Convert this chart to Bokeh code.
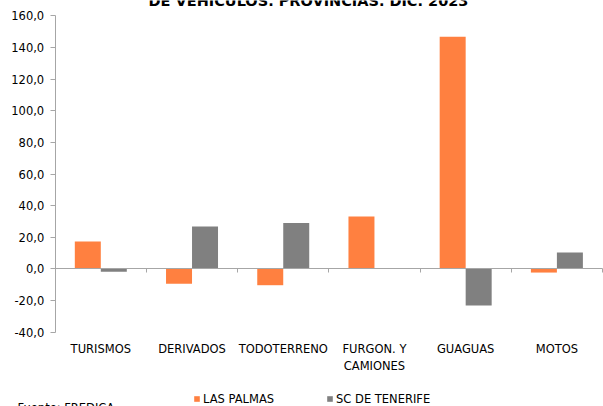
from bokeh.plotting import figure
from bokeh.models import (ColumnDataSource, FixedTicker, LinearAxis, Range1d,
                          Legend, LegendItem, Label)
from bokeh.transform import dodge
from bokeh.embed import file_html
from bokeh.resources import INLINE

# ---- data ----
categories = ["TURISMOS", "DERIVADOS", "TODOTERRENO", "FURGON. Y\nCAMIONES", "GUAGUAS", "MOTOS"]
las_palmas = [17.3, -9.4, -10.3, 33.1, 146.8, -2.3]
sc_tenerife = [-1.8, 26.8, 29.1, 0.0, -23.1, 10.4]
y_ticks = [-40, -20, 0, 20, 40, 60, 80, 100, 120, 140, 160]
series_names = ["LAS PALMAS", "SC DE TENERIFE"]
title_text = "DE VEHÍCULOS. PROVINCIAS. DIC. 2023"
source_text = "Fuente: FREDICA"

# ---- style / layout ----
ORANGE = "#FF8040"
GRAY = "#808080"
AXIS = "#A6A6A6"
FONT = "DejaVu Sans"
FS = "11.5px"
W, H = 603, 406
AX_LEFT, AX_RIGHT = 54.7, 602.0      # pixel extent of the category axis
AX_TOP, AX_BOTTOM = 15.3, 331.7      # pixel extent of the value axis

n = len(categories)
ux = (AX_RIGHT - AX_LEFT) / n
uy = (AX_BOTTOM - AX_TOP) / (y_ticks[-1] - y_ticks[0])
x_range = Range1d(-AX_LEFT / ux, n + (W - AX_RIGHT) / ux)
y_range = Range1d(y_ticks[0] - (H - AX_BOTTOM) / uy, y_ticks[-1] + AX_TOP / uy)

x_centers = [i + 0.5 for i in range(n)]
boundaries = list(range(n + 1))
src = ColumnDataSource(dict(x=x_centers, lp=las_palmas, sc=sc_tenerife))

p = figure(width=W, height=H, x_range=x_range, y_range=y_range,
           output_backend="svg", toolbar_location=None,
           x_axis_location=None, y_axis_location=None,
           min_border=0, min_border_top=0, min_border_bottom=0,
           min_border_left=0, min_border_right=0)
p.grid.visible = False
p.outline_line_color = None
p.background_fill_color = "white"
p.border_fill_color = "white"

bw = 0.285
r1 = p.vbar(x=dodge("x", -bw / 2), top="lp", width=bw, source=src,
            fill_color=ORANGE, line_color=None)
r2 = p.vbar(x=dodge("x", bw / 2), top="sc", width=bw, source=src,
            fill_color=GRAY, line_color=None)

# value axis
ya = LinearAxis(fixed_location=0, ticker=FixedTicker(ticks=y_ticks),
                bounds=(y_ticks[0], y_ticks[-1]))
ya.major_label_overrides = {v: f"{v:.1f}".replace(".", ",") for v in y_ticks}
ya.axis_line_color = AXIS
ya.major_tick_line_color = AXIS
ya.major_tick_out = 5
ya.major_tick_in = 0
ya.minor_tick_line_color = None
ya.major_label_standoff = 6
ya.major_label_text_font = FONT
ya.major_label_text_font_size = FS
ya.major_label_text_color = "black"
p.add_layout(ya, "left")

# category axis: line at zero, ticks between categories, labels at the bottom
xa = LinearAxis(fixed_location=0,
                ticker=FixedTicker(ticks=x_centers, minor_ticks=boundaries),
                bounds=(0, n),
                major_label_overrides={x: c for x, c in zip(x_centers, categories)})
xa.axis_line_color = AXIS
xa.major_tick_line_color = None
xa.major_tick_out = 0
xa.major_tick_in = 0
xa.minor_tick_line_color = AXIS
xa.minor_tick_out = 4
xa.minor_tick_in = 0
xa.major_label_standoff = 69
xa.major_label_text_font = FONT
xa.major_label_text_font_size = FS
xa.major_label_text_color = "black"
p.add_layout(xa, "below")

legend = Legend(items=[LegendItem(label=series_names[0], renderers=[r1]),
                       LegendItem(label=series_names[1], renderers=[r2])],
                location=(193, 0.5), orientation="horizontal",
                glyph_width=7, glyph_height=7, label_standoff=3, spacing=52,
                padding=0, margin=0, border_line_color=None,
                background_fill_alpha=0, label_height=14,
                label_text_font=FONT, label_text_font_size=FS,
                label_text_color="black")
p.add_layout(legend, "center")

p.add_layout(Label(x=308, y=H, x_units="screen", y_units="screen",
                   text=title_text, text_align="center",
                   text_baseline="alphabetic", text_font=FONT,
                   text_font_size="14.5px", text_font_style="bold",
                   text_color="black"))
p.add_layout(Label(x=17, y=5.5, x_units="screen", y_units="screen",
                   text=source_text, text_align="left", text_baseline="top",
                   text_font=FONT, text_font_size=FS, text_color="black"))

open("out.html", "w").write(file_html(p, INLINE))
